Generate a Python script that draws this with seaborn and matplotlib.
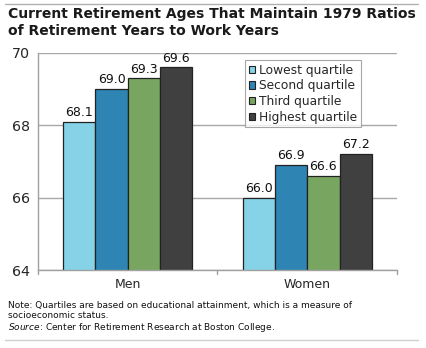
import matplotlib
matplotlib.use("Agg")
import matplotlib.pyplot as plt
import seaborn as sns
import pandas as pd
from matplotlib.lines import Line2D
from matplotlib.patches import Patch

groups = ["Men", "Women"]
quartiles = ["Lowest quartile", "Second quartile", "Third quartile", "Highest quartile"]
men = [68.1, 69.0, 69.3, 69.6]
women = [66.0, 66.9, 66.6, 67.2]
colors = ["#86D3E8", "#2E84B2", "#78A660", "#404040"]
yticks = [64, 66, 68, 70]

rows = []
for g, vals in zip(groups, [men, women]):
    for q, v in zip(quartiles, vals):
        rows.append({"group": g, "quartile": q, "value": v})
df = pd.DataFrame(rows)

sns.set_theme(style="white")
plt.rcParams['font.family'] = ['DejaVu Sans']

fig = plt.figure(figsize=(4.27, 3.48), dpi=100)
ax = fig.add_axes([38/427, 1-270/348, (397-38)/427, (270-53)/348])

sns.barplot(data=df, x="group", y="value", hue="quartile", hue_order=quartiles,
            palette=colors, width=0.72, edgecolor="#222222", linewidth=0.9,
            ax=ax, legend=False, saturation=1)

ax.set_ylim(64, 70)
ax.set_xlim(-0.5, 1.5)
ax.set_yticks(yticks)
ax.set_yticklabels([str(t) for t in yticks], fontsize=10.3)
ax.yaxis.grid(True, color="#a8a8a8", linewidth=1.0)
ax.set_axisbelow(True)
ax.set_xlabel("")
ax.set_ylabel("")
ax.set_xticks([0, 1])
ax.set_xticklabels(groups, fontsize=9)
ax.tick_params(axis="x", length=0, pad=6)
ax.tick_params(axis="y", length=4, color="#a0a0a0", width=1, pad=2, direction="out")
for t in [-0.5, 0.5, 1.5]:
    ax.plot([t, t], [0, -0.02], transform=ax.get_xaxis_transform(), color="#a0a0a0",
            lw=1, clip_on=False)
for s in ["top", "right"]:
    ax.spines[s].set_visible(False)
for s in ["left", "bottom"]:
    ax.spines[s].set_color("#a0a0a0")
    ax.spines[s].set_linewidth(1)

for c in ax.containers:
    ax.bar_label(c, fmt="%.1f", fontsize=9, padding=2, color="#111111")

handles = [Patch(facecolor=col, edgecolor="#222222", linewidth=0.8) for col in colors]
leg = ax.legend(handles, quartiles, loc="upper left", bbox_to_anchor=(207/359, 1-7/217),
                fontsize=8.8, frameon=True, fancybox=False, handlelength=0.55,
                handleheight=0.55, handletextpad=0.3, borderpad=0.3, labelspacing=0.22,
                borderaxespad=0)
leg.get_frame().set_edgecolor("#909090")
leg.get_frame().set_linewidth(0.8)

fig.text(8/427, 1-7/348, "Current Retirement Ages That Maintain 1979 Ratios\nof Retirement Years to Work Years",
         fontsize=10, fontweight="bold", color="#1a1a1a", va="top", ha="left", linespacing=1.3)

fig.add_artist(Line2D([5/427, 418/427], [1-4/348, 1-4/348], color="#b0b0b0", lw=1))
fig.add_artist(Line2D([5/427, 418/427], [1-340/348, 1-340/348], color="#d0d0d0", lw=1))

fig.text(8/427, 1-301/348,
         "Note: Quartiles are based on educational attainment, which is a measure of\n"
         "socioeconomic status.\n"
         r"$\it{Source}$: Center for Retirement Research at Boston College.",
         fontsize=6.5, va="top", ha="left", color="#111111", linespacing=1.15)

fig.savefig("out.png", dpi=100)
